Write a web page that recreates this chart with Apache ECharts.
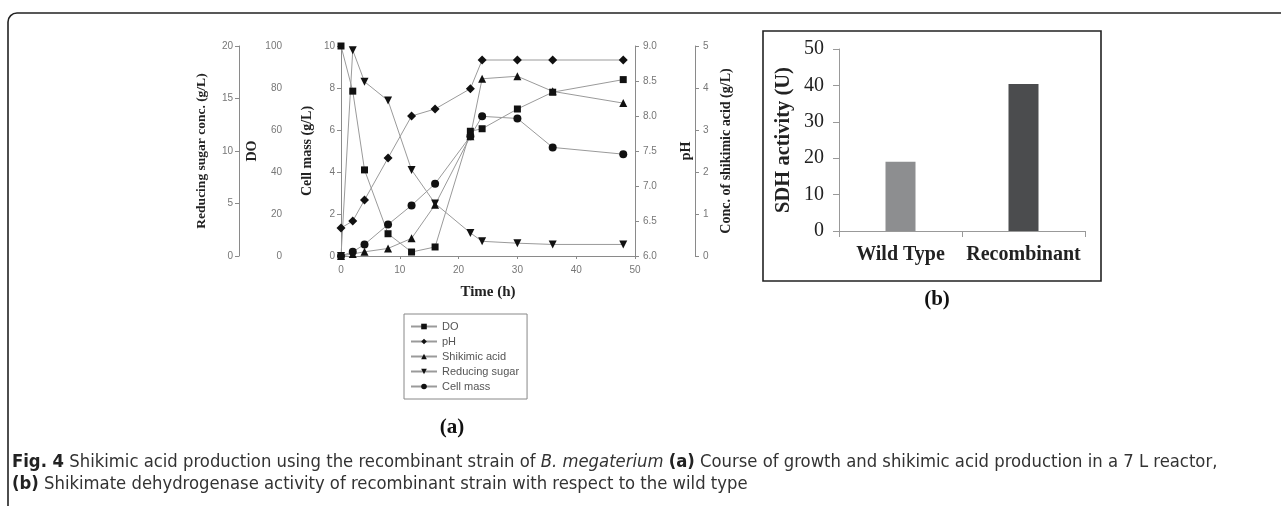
<!DOCTYPE html>
<html><head><meta charset="utf-8">
<script src="https://cdn.jsdelivr.net/npm/echarts@6/dist/echarts.min.js"></script>
<style>html,body{margin:0;padding:0;background:#fff}#c{width:1281px;height:506px}</style>
</head><body><div id="c"></div>
<script>
// ---- data ----
const hours = [0, 2, 4, 8, 12, 16, 22, 24, 30, 36, 48];
const doVals = [100, 78.5, 41, 10.6, 1.9, 4.3, 59.4, 60.6, 70, 78, 84];
const phVals = [6.4, 6.5, 6.8, 7.4, 8.0, 8.1, 8.39, 8.8, 8.8, 8.8, 8.8];
const shikimicVals = [0, 0.05, 0.1, 0.18, 0.42, 1.22, 2.85, 4.22, 4.28, 3.92, 3.64];
const sugarVals = [0, 19.6, 16.6, 14.8, 8.2, 5.0, 2.2, 1.4, 1.22, 1.1, 1.1];
const cellMassVals = [0, 0.2, 0.55, 1.5, 2.41, 3.44, 5.7, 6.65, 6.55, 5.17, 4.85];
const seriesNames = ['DO', 'pH', 'Shikimic acid', 'Reducing sugar', 'Cell mass'];

const strains = ['Wild Type', 'Recombinant'];
const sdhActivity = [19, 40.4];

const chart = echarts.init(document.getElementById('c'));
const pair = arr => hours.map((h, i) => [h, arr[i]]);

const AX = '#8a8a8a', LBL = '#777';
const serif = "'Liberation Serif','Times New Roman',serif";
const sans = "'Liberation Sans',Arial,sans-serif";
const capFont = "'Liberation Sans Narrow','DejaVu Sans Condensed',sans-serif";
const axName = {fontFamily: serif, fontWeight: 'bold', fontSize: 14, color: '#222'};
const axLbl = {color: LBL, fontFamily: sans, fontSize: 10};

function lineSeries(name, yIdx, data, symbol, size, rot) {
  return {
    name, type: 'line', xAxisIndex: 0, yAxisIndex: yIdx, data: pair(data),
    symbol, symbolSize: size, symbolRotate: rot || 0,
    lineStyle: {color: '#9a9a9a', width: 1},
    itemStyle: {color: '#111'}, animation: false
  };
}

const yA = (o) => Object.assign({
  type: 'value', gridIndex: 0, nameLocation: 'middle', nameRotate: 90,
  nameTextStyle: axName, splitLine: {show: false},
  axisLine: {show: true, lineStyle: {color: AX}},
  axisTick: {show: true, length: 4, lineStyle: {color: AX}},
  axisLabel: Object.assign({margin: 6}, axLbl)
}, o);

const option = {
  animation: false,
  graphic: [
    {type: 'rect', shape: {x: 8, y: 13, width: 1320, height: 540, r: 9}, style: {fill: 'none', stroke: '#222', lineWidth: 1.6}, z: -1},
    {type: 'rect', shape: {x: 763, y: 31, width: 338, height: 250}, style: {fill: 'none', stroke: '#222', lineWidth: 1.6}, z: -1}
  ],
  title: [
    {text: '(a)', left: 447, top: 412, textAlign: 'center', textStyle: {fontFamily: serif, fontWeight: 'bold', fontSize: 21, color: '#111'}},
    {text: '(b)', left: 932, top: 284, textAlign: 'center', textStyle: {fontFamily: serif, fontWeight: 'bold', fontSize: 21, color: '#111'}},
    {
      text: '{b|Fig. 4} Shikimic acid production using the recombinant strain of {i|B. megaterium} {b|(a)} Course of growth and shikimic acid production in a 7 L reactor,\n{b|(b)} Shikimate dehydrogenase activity of recombinant strain with respect to the wild type',
      left: 12, top: 451, padding: 0,
      textStyle: {
        fontFamily: capFont, fontSize: 18.3, color: '#333', fontWeight: 'normal', lineHeight: 22,
        rich: {
          b: {fontFamily: capFont, fontSize: 18.3, fontWeight: 'bold', color: '#222', lineHeight: 22},
          i: {fontFamily: capFont, fontSize: 18.3, fontStyle: 'italic', color: '#333', lineHeight: 22}
        }
      }
    }
  ],
  legend: {
    orient: 'vertical', left: 404, top: 314, data: seriesNames,
    itemWidth: 26, itemHeight: 7, itemGap: 4,
    borderColor: '#888', borderWidth: 1, padding: [7, 8, 7, 6],
    textStyle: {fontFamily: sans, fontSize: 11, color: '#555'}
  },
  grid: [
    {left: 341, top: 46, width: 294, height: 210},
    {left: 839, top: 49, width: 246, height: 182}
  ],
  xAxis: [
    {type: 'value', gridIndex: 0, min: 0, max: 50, interval: 10, position: 'bottom',
     name: 'Time (h)', nameLocation: 'middle', nameGap: 29, nameTextStyle: Object.assign({}, axName, {fontSize: 15}),
     axisLine: {lineStyle: {color: AX}}, axisTick: {length: 3, lineStyle: {color: AX}},
     axisLabel: Object.assign({margin: 9}, axLbl), splitLine: {show: false}},
    {type: 'value', gridIndex: 0, min: 0, max: 50, position: 'top',
     axisLine: {show: true, lineStyle: {color: AX}}, axisTick: {show: false}, axisLabel: {show: false}, splitLine: {show: false}},
    {type: 'category', gridIndex: 1, data: strains,
     axisLine: {lineStyle: {color: '#999'}},
     axisTick: {show: true, alignWithLabel: false, interval: 0, length: 6, lineStyle: {color: '#999'}},
     axisLabel: {interval: 0, margin: 14, fontFamily: serif, fontWeight: 'bold', fontSize: 20, color: '#222'}}
  ],
  yAxis: [
    yA({position: 'left', offset: 0, min: 0, max: 10, interval: 2, name: 'Cell mass (g/L)', nameGap: 27}),
    yA({position: 'left', offset: 53, min: 0, max: 100, interval: 20, name: 'DO', nameGap: 29}),
    yA({position: 'left', offset: 102, min: 0, max: 20, interval: 5, name: 'Reducing sugar conc. (g/L)', nameGap: 30, nameTextStyle: Object.assign({}, axName, {fontSize: 13.5})}),
    yA({position: 'right', offset: 0, min: 6, max: 9, interval: 0.5, name: 'pH', nameGap: 44,
        axisLabel: Object.assign({margin: 8, formatter: v => v.toFixed(1)}, axLbl)}),
    yA({position: 'right', offset: 60, min: 0, max: 5, interval: 1, name: 'Conc. of shikimic acid (g/L)', nameGap: 24,
        axisLabel: Object.assign({margin: 8}, axLbl)}),
    {type: 'value', gridIndex: 1, min: 0, max: 50, interval: 10,
     name: 'SDH activity (U)', nameLocation: 'middle', nameRotate: 90, nameGap: 45,
     nameTextStyle: {fontFamily: serif, fontWeight: 'bold', fontSize: 20.5, color: '#222'},
     axisLine: {show: true, lineStyle: {color: '#999'}}, axisTick: {show: true, length: 6, lineStyle: {color: '#999'}},
     axisLabel: {margin: 15, fontFamily: serif, fontSize: 20, color: '#222'}, splitLine: {show: false}}
  ],
  series: [
    lineSeries('DO', 1, doVals, 'rect', 7),
    lineSeries('pH', 3, phVals, 'diamond', 9),
    lineSeries('Shikimic acid', 4, shikimicVals, 'triangle', 8),
    lineSeries('Reducing sugar', 2, sugarVals, 'triangle', 8, 180),
    lineSeries('Cell mass', 0, cellMassVals, 'circle', 8),
    {type: 'bar', xAxisIndex: 2, yAxisIndex: 5, barWidth: 30,
     data: sdhActivity.map((v, i) => ({value: v, itemStyle: {color: i === 0 ? '#8d8e90' : '#4b4c4e'}}))}
  ]
};
chart.setOption(option);
</script></body></html>
